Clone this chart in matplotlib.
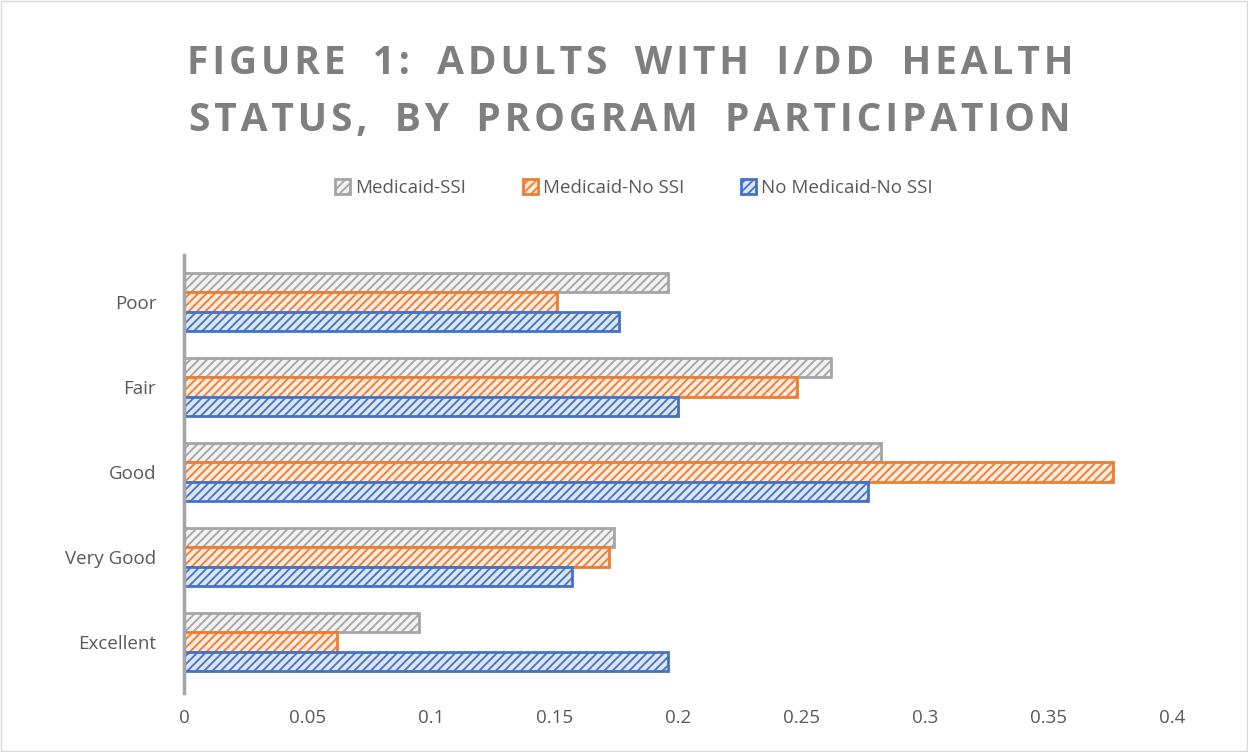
import matplotlib
matplotlib.use("Agg")
import matplotlib.pyplot as plt
import numpy as np
from matplotlib.patches import Rectangle

# Health status categories (bottom to top as drawn)
categories = ["Excellent", "Very Good", "Good", "Fair", "Poor"]
medicaid_ssi = [0.095, 0.174, 0.282, 0.262, 0.196]
medicaid_no_ssi = [0.062, 0.172, 0.376, 0.248, 0.151]
no_medicaid_no_ssi = [0.196, 0.157, 0.277, 0.200, 0.176]
xticks = [0, 0.05, 0.1, 0.15, 0.2, 0.25, 0.3, 0.35, 0.4]
xtick_labels = ["0", "0.05", "0.1", "0.15", "0.2", "0.25", "0.3", "0.35", "0.4"]
title_lines = ["FIGURE 1: ADULTS WITH I/DD HEALTH",
               "STATUS, BY PROGRAM PARTICIPATION"]

plt.rcParams["font.family"] = ["Open Sans", "DejaVu Sans"]
plt.rcParams["hatch.linewidth"] = 1.3
TXT = "#595959"


def spaced(s):
    # Excel titles are letter-spaced; fake it with hair spaces, wider word gaps
    return "\u200a".join(s).replace("\u200a \u200a", "\u2002\u2009")


fig = plt.figure(figsize=(12.48, 7.52), dpi=100)
ax = fig.add_axes([0.1474, 0.0898, 0.7917, 0.5651])

y = np.arange(len(categories))
h = 0.23
series = [
    ("Medicaid-SSI", medicaid_ssi, "#f2f2f2", "#a5a5a5", h),
    ("Medicaid-No SSI", medicaid_no_ssi, "#fdebdf", "#ed7d31", 0),
    ("No Medicaid-No SSI", no_medicaid_no_ssi, "#dce6f5", "#4472c4", -h),
]
for name, vals, fc, ec, off in series:
    ax.barh(y + off, vals, height=h, color=fc, edgecolor=ec, hatch="////",
            linewidth=2, label=name)

ax.set_xlim(0, 0.4)
ax.set_ylim(-0.5, len(categories) - 0.5)
ax.set_yticks(y)
ax.set_yticklabels(categories, fontsize=13.5, color=TXT)
ax.set_xticks(xticks)
ax.set_xticklabels(xtick_labels, fontsize=13.5, color=TXT)
ax.tick_params(length=0)
ax.tick_params(axis="y", pad=20)
ax.tick_params(axis="x", pad=18)
for s in ("top", "right", "bottom"):
    ax.spines[s].set_visible(False)
ax.spines["left"].set_color("#a5a5a5")
ax.spines["left"].set_linewidth(2.5)
ax.spines["left"].set_bounds(-0.6, 4.55)

fig.text(0.505, 0.915, spaced(title_lines[0]),
         ha="center", va="center", fontsize=28, fontweight="bold", color="#7f7f7f")
fig.text(0.505, 0.840, spaced(title_lines[1]),
         ha="center", va="center", fontsize=28, fontweight="bold", color="#7f7f7f")

fig.legend(loc="center", bbox_to_anchor=(0.508, 0.75), ncol=3, frameon=False,
           fontsize=13.5, labelcolor=TXT, handlelength=0.8, handleheight=0.8,
           handletextpad=0.3, columnspacing=3.0)

fig.patches.append(Rectangle((0.001, 0.001), 0.998, 0.998, transform=fig.transFigure,
                             fill=False, edgecolor="#d9d9d9", linewidth=1))

fig.savefig("out.png", dpi=100)
